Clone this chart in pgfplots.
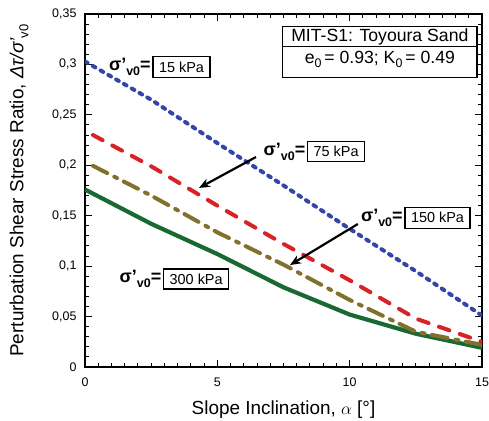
\documentclass[border=0pt]{standalone}
\usepackage{fontspec}
\setmainfont{Liberation Sans}
\usepackage{pgfplots}
\pgfplotsset{compat=1.18}
\usetikzlibrary{arrows.meta}

\definecolor{cblue}{RGB}{50,70,170}
\definecolor{cred}{RGB}{215,35,40}
\definecolor{colive}{RGB}{130,112,45}
\definecolor{cgreen}{RGB}{25,105,50}

\newcommand{\sig}{{\bfseries\fontsize{18}{18}\selectfont σ'\raisebox{-0.55ex}{\fontsize{12.5}{12}\selectfont v0}=}}
\newcommand{\anfont}{\fontsize{14.5}{16}\selectfont}

\begin{document}
\begin{tikzpicture}
\begin{axis}[
  scale only axis, width=397bp, height=353bp,
  xmin=0, xmax=15, ymin=0, ymax=0.35,
  xtick={0,5,10,15}, minor x tick num=9,
  ytick={0,0.05,0.1,0.15,0.2,0.25,0.3,0.35}, minor y tick num=4,
  tick align=inside, major tick length=7bp, minor tick length=4bp,
  axis line style={line width=1.3bp},
  every tick/.style={black, line width=1bp},
  tick label style={font=\fontsize{12.5}{14}\selectfont},
  xticklabel style={yshift=-7bp},
  yticklabel style={xshift=-5bp},
  /pgf/number format/assume math mode=true,
  yticklabel style={/pgf/number format/.cd, use comma, fixed, precision=2},
  scaled y ticks=false,
  xlabel={Slope Inclination, $\alpha$ [°]},
  ylabel={Perturbation Shear Stress Ratio, \textit{Δτ/σ'}\raisebox{-0.5ex}{\fontsize{13}{13}\selectfont v0}},
  label style={font=\fontsize{19}{22}\selectfont},
  xlabel style={yshift=-8bp},
  ylabel style={yshift=17bp},
]
\coordinate (ll) at (rel axis cs:0,0);
\coordinate (ur) at (rel axis cs:1,1);

\addplot[cgreen, line width=4.2bp, line join=round] coordinates {
(0,0.176) (2.5,0.142) (5,0.112) (7.5,0.079) (10,0.052) (12.5,0.033) (15,0.019)};
\addplot[colive, line width=4bp, line cap=round, dash pattern=on 16bp off 8bp on 3bp off 7.5bp] coordinates {
(0.3,0.1995) (2.5,0.170) (5,0.1335) (7.5,0.1015) (10,0.0665) (12.5,0.035) (15,0.022)};
\addplot[cred, line width=4bp, line cap=round, dash pattern=on 11bp off 11bp] coordinates {
(0.3,0.230) (2.5,0.199) (5,0.160) (7.5,0.122) (10,0.086) (12.5,0.048) (15,0.025)};
\addplot[cblue, line width=4bp, line cap=round, dash pattern=on 3bp off 6bp] coordinates {
(0,0.303) (2.5,0.265) (5,0.222) (7.5,0.180) (10,0.137) (12.5,0.095) (15,0.051)};

% annotations
\node[draw, fill=white, line width=1.4bp, inner xsep=6bp, minimum height=21bp, font=\anfont] (b15) at (axis cs:3.646,0.2974) {15 kPa};
\node[anchor=east, inner sep=1.5bp] at (b15.west) {\sig};
\node[draw, fill=white, line width=1.4bp, inner xsep=6bp, minimum height=20bp, font=\anfont] (b75) at (axis cs:9.49,0.2135) {75 kPa};
\node[anchor=east, inner sep=1.5bp] at (b75.west) {\sig};
\node[draw, fill=white, line width=1.4bp, inner xsep=6bp, minimum height=21bp, font=\anfont] (b150) at (axis cs:13.32,0.1479) {150 kPa};
\node[anchor=east, inner sep=1.5bp] at (b150.west) {\sig};
\node[draw, fill=white, line width=1.4bp, inner xsep=6bp, minimum height=20bp, font=\anfont] (b300) at (axis cs:4.20,0.0872) {300 kPa};
\node[anchor=east, inner sep=1.5bp] at (b300.west) {\sig};

\draw[line width=2.2bp, -{Stealth[length=11bp,width=9bp]}] (axis cs:6.46,0.2082) -- (axis cs:4.307,0.1775);
\draw[line width=2.2bp, -{Stealth[length=11bp,width=9bp]}] (axis cs:10.31,0.1418) -- (axis cs:7.745,0.1011);

% info box
\draw[line width=1.5bp, fill=white] (axis cs:7.47,0.2868) rectangle (axis cs:14.81,0.3374);
\draw[line width=1.3bp] (axis cs:7.47,0.3176) -- (axis cs:14.81,0.3176);
\node[anchor=base, inner sep=0pt, font=\fontsize{17.7}{20}\selectfont] at (axis cs:11.14,0.3225) {MIT-S1: Toyoura Sand};
\node[anchor=base, inner sep=0pt, font=\fontsize{17.7}{20}\selectfont] at (axis cs:11.14,0.3011) {e\raisebox{-0.5ex}{\fontsize{12.5}{13}\selectfont 0}\,= 0.93; K\raisebox{-0.5ex}{\fontsize{12.5}{13}\selectfont 0}\,= 0.49};
\end{axis}
\pgfresetboundingbox
\path ([shift={(-85bp,-54bp)}]ll) rectangle ([shift={(7bp,14bp)}]ur);
\end{tikzpicture}
\end{document}
